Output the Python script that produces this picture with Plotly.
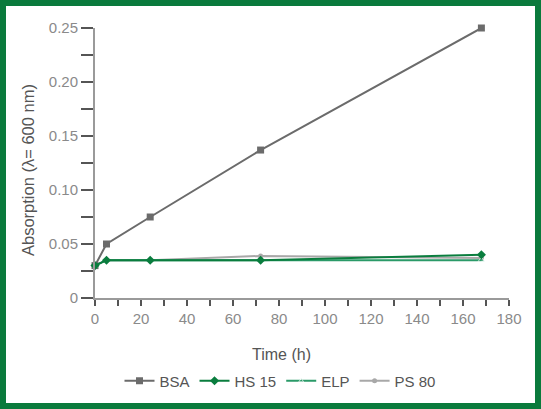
import plotly.graph_objects as go

time_bsa = [0, 5, 24, 72, 168]
bsa = [0.030, 0.050, 0.075, 0.137, 0.250]
time_hs15 = [0, 5, 24, 72, 168]
hs15 = [0.030, 0.035, 0.035, 0.035, 0.040]
time_elp = [0, 5, 24, 72, 120, 168]
elp = [0.030, 0.035, 0.035, 0.035, 0.035, 0.035]
time_ps80 = [0, 5, 24, 72, 168]
ps80 = [0.030, 0.035, 0.035, 0.039, 0.037]

x_ticks = [0, 20, 40, 60, 80, 100, 120, 140, 160, 180]
y_ticks = [0, 0.05, 0.10, 0.15, 0.20, 0.25]
y_ticktext = ["0", "0.05", "0.10", "0.15", "0.20", "0.25"]

W, H = 541, 409
L, R, T, B = 95, 32, 28, 111
PW, PH = W - L - R, H - T - B

def px(xp):
    return (xp - L) / PW

def py(yp):
    return (H - B - yp) / PH

FONT = "Liberation Sans, Arial, sans-serif"

fig = go.Figure()
fig.add_trace(go.Scatter(x=time_bsa, y=bsa, name="BSA", mode="lines+markers",
                         line=dict(color="#6b6b6b", width=2),
                         marker=dict(symbol="square", size=7, color="#6b6b6b"),
                         cliponaxis=False, legendrank=1))
fig.add_trace(go.Scatter(x=time_ps80, y=ps80, name="PS 80", mode="lines+markers",
                         line=dict(color="#a8a8a8", width=2),
                         marker=dict(symbol="circle", size=5, color="#a8a8a8"),
                         cliponaxis=False, legendrank=4))
fig.add_trace(go.Scatter(x=time_elp, y=elp, name="ELP", mode="lines+markers",
                         line=dict(color="#2a9a68", width=2),
                         marker=dict(symbol="triangle-up", size=[5, 5, 5, 5, 0, 6], color="#2a9a68"),
                         cliponaxis=False, legendrank=3))
fig.add_trace(go.Scatter(x=time_hs15, y=hs15, name="HS 15", mode="lines+markers",
                         line=dict(color="#0a7d3e", width=2),
                         marker=dict(symbol="diamond", size=7, color="#0a7d3e"),
                         cliponaxis=False, legendrank=2))

fig.update_layout(
    width=W, height=H,
    margin=dict(l=L, r=R, t=T, b=B),
    paper_bgcolor="white", plot_bgcolor="white",
    font=dict(family=FONT, color="#555555"),
    showlegend=True,
    legend=dict(orientation="h", x=px(280), xanchor="center", y=py(381), yanchor="middle",
                font=dict(size=15, color="#555555"), itemwidth=30, tracegroupgap=0,
                bgcolor="rgba(0,0,0,0)"),
    xaxis=dict(range=[0, 180], tickvals=x_ticks, showgrid=False, zeroline=False,
               showline=True, linecolor="#9a9a9a", linewidth=2,
               ticks="outside", ticklen=6, tickwidth=1.5, tickcolor="#555555",
               minor=dict(dtick=10, tick0=0, ticks="outside", ticklen=6, tickwidth=1.5, tickcolor="#555555"),
               tickfont=dict(size=15, color="#8a8a8a", family=FONT)),
    yaxis=dict(range=[0, 0.25], tickvals=y_ticks, ticktext=y_ticktext, showgrid=False, zeroline=False,
               showline=True, linecolor="#9a9a9a", linewidth=2,
               ticks="outside", ticklen=12, tickwidth=1.5, tickcolor="#555555",
               minor=dict(dtick=0.025, tick0=0, ticks="outside", ticklen=12, tickwidth=1.5, tickcolor="#555555"),
               tickfont=dict(size=15, color="#8a8a8a", family=FONT)),
    annotations=[
        dict(text="Time (h)", x=px(281), y=py(354), xref="paper", yref="paper",
             showarrow=False, font=dict(size=16, color="#555555", family=FONT),
             xanchor="center", yanchor="middle"),
        dict(text="Absorption (λ= 600 nm)", x=px(28), y=py(170), xref="paper", yref="paper",
             showarrow=False, textangle=-90, font=dict(size=16.5, color="#555555", family=FONT),
             xanchor="center", yanchor="middle"),
    ],
    shapes=[
        dict(type="rect", xref="paper", yref="paper", x0=px(3), x1=px(W - 3), y0=py(H - 3), y1=py(3),
             line=dict(color="#0a7a3c", width=6), fillcolor="rgba(0,0,0,0)", layer="above"),
    ],
)

fig.write_html("out.html", config={"displayModeBar": False},
               post_script="document.body.style.margin='0';document.body.style.overflow='hidden';")
